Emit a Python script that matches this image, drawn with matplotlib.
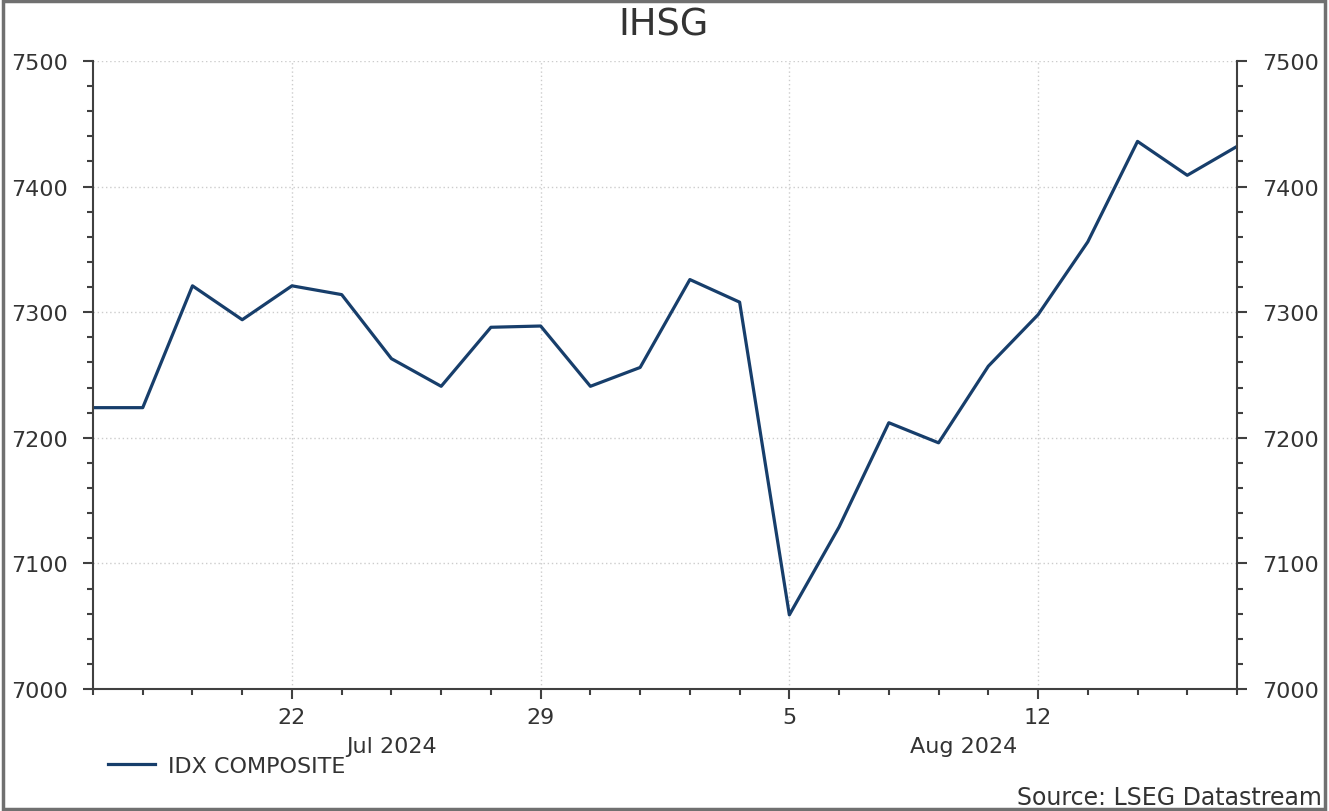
import matplotlib.pyplot as plt
import matplotlib.ticker as plticker
from matplotlib.patches import Rectangle

plt.rcParams['font.family'] = ['DejaVu Sans']

# business days, 16 Jul 2024 .. 16 Aug 2024
dates = ['2024-07-16', '2024-07-17', '2024-07-18', '2024-07-19',
         '2024-07-22', '2024-07-23', '2024-07-24', '2024-07-25', '2024-07-26',
         '2024-07-29', '2024-07-30', '2024-07-31', '2024-08-01', '2024-08-02',
         '2024-08-05', '2024-08-06', '2024-08-07', '2024-08-08', '2024-08-09',
         '2024-08-12', '2024-08-13', '2024-08-14', '2024-08-15', '2024-08-16']
ihsg = [7224, 7224, 7321, 7294, 7321, 7314, 7263, 7241, 7288,
        7289, 7241, 7256, 7326, 7308, 7059, 7129, 7212, 7196, 7257,
        7298, 7356, 7436, 7409, 7432]

tick_pos = [4, 9, 14, 19]
tick_labels = ['22', '29', '5', '12']
months = [(6, 'Jul 2024'), (17.5, 'Aug 2024')]

line_col = '#173e6b'
txt_col = '#333333'

fig = plt.figure(figsize=(13.29, 8.12), dpi=100)
ax = fig.add_axes([93 / 1329, 1 - 690 / 812, (1237 - 93) / 1329, (690 - 62) / 812])

x = list(range(len(dates)))
ax.plot(x, ihsg, color=line_col, lw=2.3, label='IDX COMPOSITE')

ax.set_xlim(0, len(dates) - 1)
ax.set_ylim(7000, 7500)

ax.xaxis.set_major_locator(plticker.FixedLocator(tick_pos))
ax.xaxis.set_major_formatter(plticker.FixedFormatter(tick_labels))
ax.xaxis.set_minor_locator(plticker.MultipleLocator(1))
ax.yaxis.set_major_locator(plticker.MultipleLocator(100))
ax.yaxis.set_minor_locator(plticker.MultipleLocator(20))

ax.grid(True, which='major', color='#cccccc', ls=(0, (1, 2)), lw=1)
ax.spines['top'].set_visible(False)
for s in ['left', 'right', 'bottom']:
    ax.spines[s].set_color('#404040')
    ax.spines[s].set_linewidth(1.5)

ax.tick_params(axis='both', which='major', length=7, width=1.5, color='#404040',
               labelsize=16, labelcolor=txt_col)
ax.tick_params(axis='both', which='minor', length=4.5, width=1.5, color='#404040')
ax.tick_params(axis='x', which='major', pad=6)
ax.tick_params(axis='y', which='both', left=True, right=True, labelleft=True, labelright=True)
ax.tick_params(axis='y', which='major', pad=11)

for mx, mt in months:
    ax.text(mx, -0.075, mt, transform=ax.get_xaxis_transform(), ha='center', va='top',
            fontsize=16, color=txt_col)

fig.text(664 / 1329, 1 - 25 / 812, 'IHSG', ha='center', va='center', fontsize=26.5, color=txt_col)
fig.text(1322 / 1329, 1 - 798 / 812, 'Source: LSEG Datastream', ha='right', va='center',
         fontsize=17, color=txt_col)

fig.legend(loc='center left', bbox_to_anchor=(88 / 1329, 1 - 767 / 812), frameon=False,
           fontsize=16, handlelength=2.1, handletextpad=0.6, labelcolor=txt_col)

fig.patches.append(Rectangle((0.002, 0.003), 0.995, 0.994, transform=fig.transFigure,
                             fill=False, ec='#707070', lw=2.5))

fig.savefig('out.png', dpi=100)
